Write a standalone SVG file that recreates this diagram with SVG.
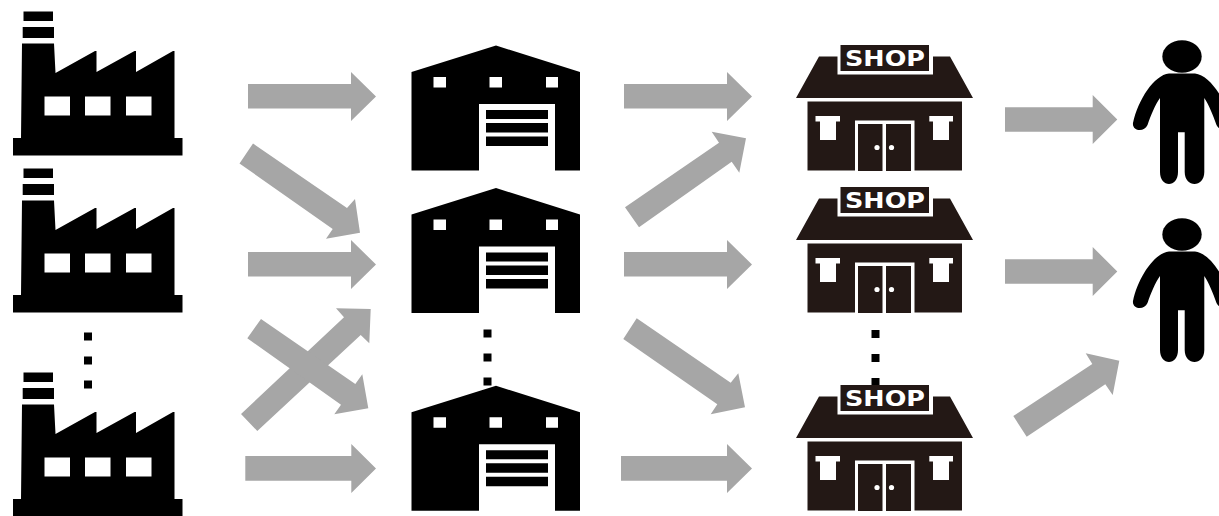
<svg xmlns="http://www.w3.org/2000/svg" xmlns:xlink="http://www.w3.org/1999/xlink" width="1219" height="516" viewBox="0 0 1219 516">
<style>
.k{fill:#000}.w{fill:#fff}.s{fill:#231815}
.a{fill:#a6a6a6}
.t{font-family:"DejaVu Sans","Liberation Sans",sans-serif;font-weight:700;font-size:21px;fill:#fff}
</style>
<defs>
<g id="factory">
<path class="k" d="M23.5 11.5H53V21H23.5ZM22.700 27H54V38H22.700ZM22 43.500H54L55.500 73L95 51H96.500V72L134.500 51H136V72L173 51H174.500V138H182.500V155.500H13V138H21Z"/>
<path class="w" d="M44.500 96.500H70V115.500H44.500ZM85 96.500H110.500V115.500H85ZM126 96.500H151.500V115.500H126Z"/>
</g>
<g id="warehouse">
<path class="k" d="M411.500 72L496 45.500L580 72V170.500H555V104H479V170.500H411.500Z"/>
<path class="w" d="M433.500 77H446V87.500H433.500ZM489.500 77H502V87.500H489.500ZM546 77H558V87.500H546Z"/>
<path class="k" d="M486 110H548V119H486ZM486 123H548V132.500H486ZM486 136.500H548V146H486Z"/>
</g>
<g id="shopbody">
<path class="s" d="M819 56.500H950L973 98H796ZM807.500 101.500H962V170.500H807.500Z"/>
<path class="w" d="M837.500 45H933V74.500H837.500Z"/>
<rect class="s" x="840.500" y="45" width="88.500" height="26"/>
<path class="w" d="M815.500 116H840V121.500H836V140H820V121.500H815.500ZM929.300 116H953V121.500H949V140H933V121.500H929.300ZM855 120.500H914.500V171H855Z"/>
<path class="s" d="M858 124H882.500V171H858ZM886 124H911V171H886Z"/>
<circle class="w" cx="877" cy="147.500" r="2.600"/><circle class="w" cx="891.500" cy="147.500" r="2.600"/>
</g>
<g id="person">
<ellipse class="k" cx="1182" cy="56.500" rx="19.700" ry="16.200"/>
<path class="k" d="M1169 73.500H1195C1210 75 1226 100 1231 123C1232 131 1220 133 1216.500 125C1213 115 1209 105 1204.300 98V172C1204.300 188 1184.700 188 1184.700 172V132.300H1178V172C1178 188 1160 188 1160 172V98C1155 105 1151 115 1147.500 125C1144 133 1132 131 1133 123C1138 100 1154 75 1169 73.500Z"/>
</g>
</defs>
<rect width="1219" height="516" fill="#fff"/>
<g id="factory-1"><use href="#factory"/></g>
<g id="factory-2" transform="translate(0,157)"><use href="#factory"/></g>
<g id="factory-3" transform="translate(0,361)"><use href="#factory"/></g>
<g id="warehouse-1"><use href="#warehouse"/></g>
<g id="warehouse-2" transform="translate(0,142.500)"><use href="#warehouse"/></g>
<g id="warehouse-3" transform="translate(0,340.300)"><use href="#warehouse"/></g>
<g id="dots" class="k">
<rect x="84" y="332.500" width="8" height="8"/><rect x="84" y="356.500" width="8" height="8"/><rect x="84" y="380.500" width="8" height="8"/>
<rect x="483.500" y="329.500" width="8" height="8"/><rect x="483.500" y="353.500" width="8" height="8"/><rect x="483.500" y="377.500" width="8" height="8"/>
<rect x="871.500" y="330" width="8" height="8"/><rect x="871.500" y="354" width="8" height="8"/><rect x="871.500" y="378" width="8" height="8"/>
</g>
<g id="shop-1"><use href="#shopbody"/><text class="t" x="845" y="65.500" textLength="80" lengthAdjust="spacingAndGlyphs">SHOP</text></g>
<g id="shop-2" transform="translate(0,142)"><use href="#shopbody"/><text class="t" x="845" y="65.500" textLength="80" lengthAdjust="spacingAndGlyphs">SHOP</text></g>
<g id="shop-3" transform="translate(0,340)"><use href="#shopbody"/><text class="t" x="845" y="65.500" textLength="80" lengthAdjust="spacingAndGlyphs">SHOP</text></g>
<g id="person-1"><use href="#person"/></g>
<g id="person-2" transform="translate(0,178)"><use href="#person"/></g>
<g id="connectors" class="a">
<polygon points="248,84 351,84 351,72 376,96.500 351,121 351,108.500 248,108.500"/>
<polygon points="239.500,163.500 253,143.500 347,208 355,199 360,232.700 326,238.700 332.700,229"/>
<polygon points="248,252 351,252 351,240 376,264.500 351,289 351,276.500 248,276.500"/>
<polygon points="241,414 344,317.300 336,308.300 370.700,309 369.300,343.300 360.700,335 257.300,431"/>
<polygon points="247.300,338.300 261,319 355.300,384 362.300,374.300 368.300,408.300 334.300,414.300 341,404.700"/>
<polygon points="245.300,456 351.300,456 351.300,444 376,468.500 351.300,493 351.300,480.700 245.300,480.700"/>
<polygon points="624,84 727,84 727,72 752,96.500 727,121 727,108.500 624,108.500"/>
<polygon points="625,207.300 719,142.700 711.700,131.700 746,138.300 739.300,172.700 731.700,161.700 639,227.300"/>
<polygon points="624,252 727,252 727,240 752,264.500 727,289 727,276.500 624,276.500"/>
<polygon points="636.700,318.300 730.700,382.700 738.300,373.300 745,407.300 710.700,414.300 717.300,404.300 623.300,339"/>
<polygon points="621,456 727,456 727,444 752,468.500 727,493 727,480.700 621,480.700"/>
<polygon points="1005,107.300 1092.700,107.300 1092.700,95 1117.300,119.500 1092.700,144 1092.700,131.700 1005,131.700"/>
<polygon points="1005,259.300 1092.700,259.300 1092.700,247 1117.300,271.500 1092.700,296 1092.700,283.700 1005,283.700"/>
<polygon points="1013.300,416 1092.300,364 1085.700,353.300 1119.300,360.700 1112.700,395 1105.300,384.300 1026.700,436.700"/>
</g>
</svg>
